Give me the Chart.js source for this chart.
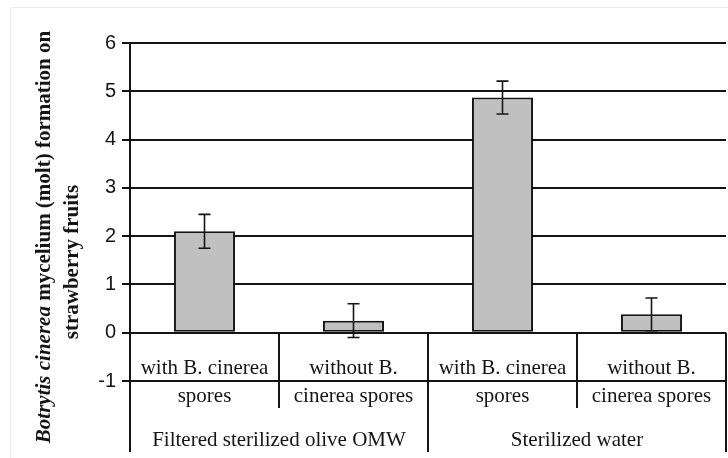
<!DOCTYPE html>
<html>
<head>
<meta charset="utf-8">
<script src="https://cdn.jsdelivr.net/npm/chart.js@4.4.1/dist/chart.umd.min.js"></script>
<style>
  html, body { margin: 0; padding: 0; background: #fff; }
  canvas { display: block; }
</style>
</head>
<body>
<canvas id="moltChart" width="728" height="458"></canvas>
<script>
// treatment labels (two text rows per bar) and group labels
const rowOneLabels = ['with B. cinerea', 'without B.', 'with B. cinerea', 'without B.'];
const rowTwoLabels = ['spores', 'cinerea spores', 'spores', 'cinerea spores'];
const groupLabels = ['Filtered sterilized olive OMW', 'Sterilized water'];
const groupSpans = [2, 2];

// mean mycelium formation and error bar half-width
const moltValues = [2.1, 0.25, 4.87, 0.38];
const moltErrors = [0.35, 0.35, 0.34, 0.34];

// y axis range
const yMin = -1;
const yMax = 6;
const yStep = 1;

const serif = '"Liberation Serif", "Times New Roman", serif';
const sans = '"Liberation Sans", Arial, sans-serif';
const ink = '#141414';

// faint frame around the picture
const framePlugin = {
    id: 'frame',
    beforeDraw(chart) {
        const ctx = chart.ctx;
        ctx.save();
        ctx.strokeStyle = '#ececec';
        ctx.lineWidth = 1;
        ctx.beginPath();
        ctx.moveTo(10.5, 460);
        ctx.lineTo(10.5, 7.5);
        ctx.lineTo(730, 7.5);
        ctx.stroke();
        ctx.restore();
    }
};

// error bars on top of each bar
const errorBarPlugin = {
    id: 'errorBars',
    afterDatasetsDraw(chart) {
        const ctx = chart.ctx;
        const y = chart.scales.y;
        const meta = chart.getDatasetMeta(0);
        ctx.save();
        ctx.strokeStyle = ink;
        ctx.lineWidth = 1.6;
        meta.data.forEach((bar, i) => {
            const top = y.getPixelForValue(moltValues[i] + moltErrors[i]);
            const bottom = y.getPixelForValue(moltValues[i] - moltErrors[i]);
            const cap = 6;
            ctx.beginPath();
            ctx.moveTo(bar.x, top);
            ctx.lineTo(bar.x, bottom);
            ctx.moveTo(bar.x - cap, top);
            ctx.lineTo(bar.x + cap, top);
            ctx.moveTo(bar.x - cap, bottom);
            ctx.lineTo(bar.x + cap, bottom);
            ctx.stroke();
        });
        ctx.restore();
    }
};

// category table under the zero line, with group labels
const categoryTablePlugin = {
    id: 'categoryTable',
    afterDraw(chart) {
        const ctx = chart.ctx;
        const x = chart.scales.x;
        const y = chart.scales.y;
        const area = chart.chartArea;
        const zeroY = y.getPixelForValue(0);
        const lowY = y.getPixelForValue(-1);
        const tableBottom = 452;
        const innerBottom = 408;
        const half = (x.getPixelForValue(1) - x.getPixelForValue(0)) / 2;

        ctx.save();
        ctx.strokeStyle = ink;
        ctx.lineWidth = 2;
        ctx.beginPath();
        // axis line continues down through the table
        ctx.moveTo(area.left, area.top);
        ctx.lineTo(area.left, tableBottom);
        let idx = 0;
        groupSpans.forEach(span => {
            for (let k = 1; k < span; k++) {
                const xi = x.getPixelForValue(idx + k) - half;
                ctx.moveTo(xi, zeroY);
                ctx.lineTo(xi, innerBottom);
            }
            idx += span;
            const xe = x.getPixelForValue(idx - 1) + half;
            ctx.moveTo(xe, zeroY);
            ctx.lineTo(xe, tableBottom);
        });
        ctx.stroke();

        ctx.fillStyle = ink;
        ctx.font = '21px ' + serif;
        ctx.textAlign = 'center';
        ctx.textBaseline = 'alphabetic';
        rowOneLabels.forEach((lab, i) => {
            ctx.fillText(lab, x.getPixelForValue(i), zeroY + 41);
        });
        rowTwoLabels.forEach((lab, i) => {
            ctx.fillText(lab, x.getPixelForValue(i), lowY + 21);
        });
        idx = 0;
        groupSpans.forEach((span, g) => {
            const cx = (x.getPixelForValue(idx) + x.getPixelForValue(idx + span - 1)) / 2;
            ctx.fillText(groupLabels[g], cx, 446);
            idx += span;
        });
        ctx.restore();
    }
};

// y title: two rotated lines, genus name in italics
const yTitlePlugin = {
    id: 'yTitle',
    afterDraw(chart) {
        const ctx = chart.ctx;
        const italicPart = 'Botrytis cinerea';
        const restPart = ' mycelium (molt) formation on';
        const lineTwo = 'strawberry fruits';
        const fItalic = 'italic bold 21px ' + serif;
        const fBold = 'bold 21px ' + serif;

        ctx.save();
        ctx.fillStyle = ink;
        ctx.textBaseline = 'middle';
        ctx.textAlign = 'left';

        ctx.font = fItalic;
        const w1 = ctx.measureText(italicPart).width;
        ctx.font = fBold;
        const w2 = ctx.measureText(restPart).width;
        ctx.translate(45, 237);
        ctx.rotate(-Math.PI / 2);
        const start = -(w1 + w2) / 2;
        ctx.font = fItalic;
        ctx.fillText(italicPart, start, 0);
        ctx.font = fBold;
        ctx.fillText(restPart, start + w1, 0);
        ctx.restore();

        ctx.save();
        ctx.fillStyle = ink;
        ctx.textBaseline = 'middle';
        ctx.textAlign = 'center';
        ctx.font = fBold;
        ctx.translate(73, 262);
        ctx.rotate(-Math.PI / 2);
        ctx.fillText(lineTwo, 0, 0);
        ctx.restore();
    }
};

const categories = rowOneLabels.map((lab, i) => lab + ' ' + rowTwoLabels[i]);

new Chart(document.getElementById('moltChart'), {
    type: 'bar',
    data: {
        labels: categories,
        datasets: [{
            data: moltValues,
            backgroundColor: '#c0c0c0',
            borderColor: ink,
            borderWidth: 2,
            borderSkipped: false,
            barPercentage: 0.41,
            categoryPercentage: 1
        }]
    },
    options: {
        responsive: false,
        animation: false,
        devicePixelRatio: 1,
        layout: {
            padding: { top: 43, bottom: 77, right: 2, left: 0 }
        },
        plugins: {
            legend: { display: false },
            tooltip: { enabled: false }
        },
        scales: {
            x: {
                display: false
            },
            y: {
                min: yMin,
                max: yMax,
                afterFit(scale) {
                    scale.width = 130;
                },
                ticks: {
                    stepSize: yStep,
                    color: ink,
                    padding: 6,
                    font: { family: sans, size: 20 }
                },
                grid: {
                    color: ink,
                    lineWidth: 2,
                    tickLength: 8,
                    drawTicks: true
                },
                border: {
                    display: true,
                    color: ink,
                    width: 2
                }
            }
        }
    },
    plugins: [framePlugin, errorBarPlugin, categoryTablePlugin, yTitlePlugin]
});
</script>
</body>
</html>
